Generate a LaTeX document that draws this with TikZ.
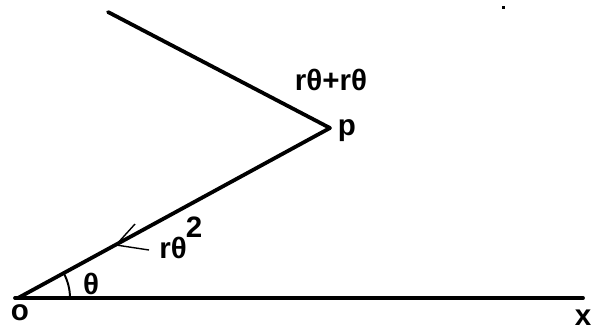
\documentclass[tikz,border=0pt]{standalone}
\usepackage{fontspec}
\setmainfont{Liberation Sans}
\usepackage{tikz}
\usetikzlibrary{positioning,calc}
\newcommand{\lbl}{\fontsize{21}{24}\selectfont\bfseries}

\begin{document}
\begin{tikzpicture}[x=0.025cm, y=-0.025cm,
    arm/.style={line width=2.7pt, line cap=round},
    txt/.style={inner sep=0pt, font=\lbl}]
  \useasboundingbox (0,0) rectangle (594,332);

  % Points
  \coordinate (O) at (18,298);
  \coordinate (P) at (330,128);
  \coordinate (A) at (108,12);
  \coordinate (X) at (583,298);
  \coordinate (tip) at (116,245);

  % Axis and arms
  \draw[arm] (15,298) -- (X);
  \draw[arm] (O) -- (P);
  \draw[arm] (P) -- (A);

  % Arrow on OP
  \draw[line width=1pt] (tip) -- (135,224);
  \draw[line width=1pt] (tip) -- (149,250);

  % Angle
  \draw[line width=1.4pt] ($(O)+(52,0)$) arc[start angle=0, end angle=-28.6, radius=52];

  % Labels
  \node[txt] (lo) at (20,313) {o};
  \node[txt] (lx) at (583,318) {x};
  \node[txt] (lp) at (347,131) {p};
  \node[txt] (lv) at (331,80) {rθ+rθ};
  \node[txt] (lr) at (173,248) {rθ};
  \node[txt] (l2) at (194,227) {2};
  \node[txt] (lt) at (91,284) {θ};

  % stray dot
  \fill (502,6) rectangle (505,9);
\end{tikzpicture}
\end{document}
